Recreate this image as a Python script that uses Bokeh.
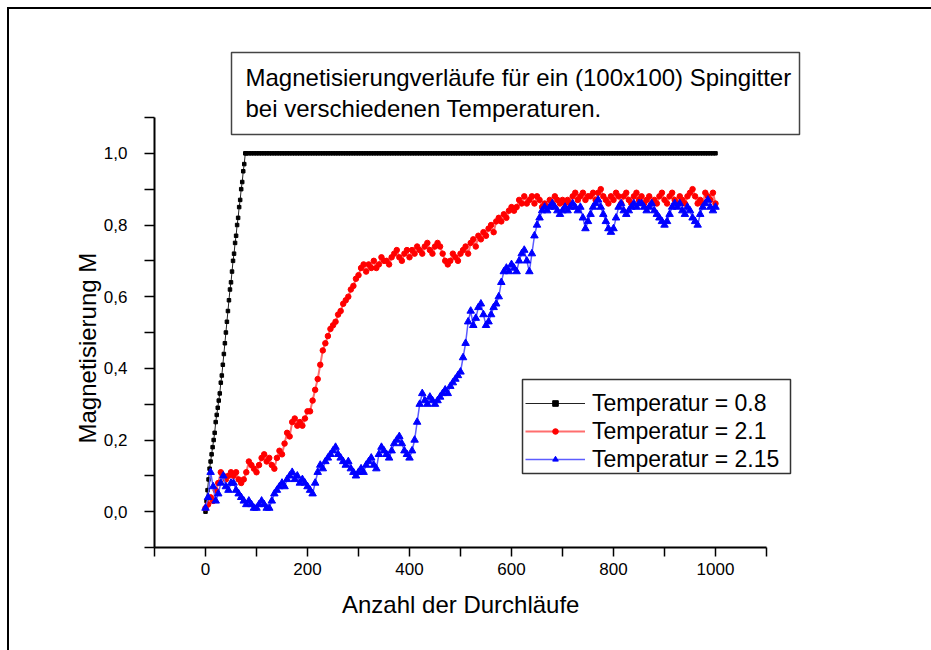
from bokeh.plotting import figure
from bokeh.models import (FixedTicker, CustomJSTickFormatter, BoxAnnotation, Label,
                          Legend, LegendItem, Range1d, Title)
from bokeh.embed import file_html
from bokeh.resources import INLINE

# Monte-Carlo sweeps (x) and magnetisation M for each temperature
steps = list(range(0, 1001, 5))

black_steps = list(range(0, 80, 2)) + list(range(80, 1001, 5))
black_m = [
    0.00, 0.03, 0.06, 0.09, 0.12, 0.14, 0.16, 0.18, 0.20, 0.22,
    0.25, 0.27, 0.29, 0.31, 0.33, 0.36, 0.38, 0.41, 0.44, 0.47,
    0.50, 0.53, 0.56, 0.59, 0.62, 0.64, 0.67, 0.70, 0.72, 0.75,
    0.77, 0.80, 0.82, 0.85, 0.87, 0.90, 0.92, 0.95, 0.97, 1.00,
    1.0, 1.0, 1.0, 1.0, 1.0, 1.0, 1.0, 1.0, 1.0, 1.0, 1.0, 1.0, 1.0, 1.0, 1.0, 1.0, 1.0, 1.0, 1.0, 1.0,
    1.0, 1.0, 1.0, 1.0, 1.0, 1.0, 1.0, 1.0, 1.0, 1.0, 1.0, 1.0, 1.0, 1.0, 1.0, 1.0, 1.0, 1.0, 1.0, 1.0,
    1.0, 1.0, 1.0, 1.0, 1.0, 1.0, 1.0, 1.0, 1.0, 1.0, 1.0, 1.0, 1.0, 1.0, 1.0, 1.0, 1.0, 1.0, 1.0, 1.0,
    1.0, 1.0, 1.0, 1.0, 1.0, 1.0, 1.0, 1.0, 1.0, 1.0, 1.0, 1.0, 1.0, 1.0, 1.0, 1.0, 1.0, 1.0, 1.0, 1.0,
    1.0, 1.0, 1.0, 1.0, 1.0, 1.0, 1.0, 1.0, 1.0, 1.0, 1.0, 1.0, 1.0, 1.0, 1.0, 1.0, 1.0, 1.0, 1.0, 1.0,
    1.0, 1.0, 1.0, 1.0, 1.0, 1.0, 1.0, 1.0, 1.0, 1.0, 1.0, 1.0, 1.0, 1.0, 1.0, 1.0, 1.0, 1.0, 1.0, 1.0,
    1.0, 1.0, 1.0, 1.0, 1.0, 1.0, 1.0, 1.0, 1.0, 1.0, 1.0, 1.0, 1.0, 1.0, 1.0, 1.0, 1.0, 1.0, 1.0, 1.0,
    1.0, 1.0, 1.0, 1.0, 1.0, 1.0, 1.0, 1.0, 1.0, 1.0, 1.0, 1.0, 1.0, 1.0, 1.0, 1.0, 1.0, 1.0, 1.0, 1.0,
    1.0, 1.0, 1.0, 1.0, 1.0, 1.0, 1.0, 1.0, 1.0, 1.0, 1.0, 1.0, 1.0, 1.0, 1.0, 1.0, 1.0, 1.0, 1.0, 1.0,
    1.0, 1.0, 1.0, 1.0, 1.0,
]

red_m = [
    0.01, 0.02, 0.04, 0.03, 0.06, 0.08, 0.11, 0.10, 0.09, 0.10, 0.11,
    0.10, 0.11, 0.09, 0.08, 0.09, 0.11, 0.14, 0.13, 0.12, 0.11,
    0.13, 0.15, 0.16, 0.14, 0.15, 0.13, 0.12, 0.15, 0.17, 0.16,
    0.19, 0.22, 0.21, 0.25, 0.26, 0.24, 0.25, 0.24, 0.26, 0.28,
    0.28, 0.31, 0.34, 0.37, 0.41, 0.45, 0.47, 0.49, 0.51, 0.52,
    0.53, 0.55, 0.56, 0.58, 0.59, 0.60, 0.62, 0.63, 0.65, 0.66,
    0.68, 0.69, 0.67, 0.69, 0.68, 0.70, 0.68, 0.69, 0.71, 0.70,
    0.70, 0.69, 0.71, 0.72, 0.73, 0.71, 0.70, 0.72, 0.73, 0.71,
    0.73, 0.72, 0.74, 0.73, 0.72, 0.74, 0.75, 0.73, 0.72, 0.74,
    0.75, 0.74, 0.72, 0.70, 0.69, 0.70, 0.72, 0.71, 0.70, 0.72,
    0.73, 0.74, 0.72, 0.75, 0.76, 0.74, 0.77, 0.76, 0.78, 0.77,
    0.79, 0.80, 0.78, 0.81, 0.82, 0.81, 0.83, 0.82, 0.84, 0.85,
    0.84, 0.85, 0.87, 0.86, 0.88, 0.86, 0.87, 0.88, 0.86, 0.88,
    0.87, 0.85, 0.86, 0.85, 0.87, 0.86, 0.88, 0.87, 0.86, 0.87,
    0.86, 0.87, 0.86, 0.88, 0.89, 0.87, 0.88, 0.89, 0.87, 0.88,
    0.88, 0.89, 0.87, 0.89, 0.90, 0.88, 0.87, 0.86, 0.88, 0.87,
    0.89, 0.88, 0.86, 0.88, 0.89, 0.87, 0.86, 0.88, 0.89, 0.87,
    0.88, 0.86, 0.87, 0.88, 0.86, 0.87, 0.86, 0.88, 0.89, 0.87,
    0.86, 0.88, 0.89, 0.87, 0.86, 0.88, 0.87, 0.86, 0.88, 0.89,
    0.90, 0.88, 0.86, 0.87, 0.86, 0.89, 0.88, 0.87, 0.89, 0.86,
]

blue_m = [
    0.01, 0.04, 0.11, 0.07, 0.03, 0.05, 0.08, 0.10, 0.07, 0.06, 0.08,
    0.08, 0.06, 0.05, 0.04, 0.03, 0.02, 0.03, 0.02, 0.01, 0.01,
    0.02, 0.03, 0.02, 0.01, 0.01, 0.03, 0.05, 0.06, 0.07, 0.08,
    0.07, 0.09, 0.10, 0.11, 0.09, 0.10, 0.08, 0.09, 0.08, 0.07,
    0.06, 0.05, 0.08, 0.11, 0.13, 0.12, 0.14, 0.15, 0.16, 0.17,
    0.18, 0.16, 0.15, 0.14, 0.13, 0.14, 0.12, 0.11, 0.10, 0.11,
    0.12, 0.11, 0.13, 0.14, 0.15, 0.13, 0.12, 0.16, 0.18, 0.17,
    0.16, 0.15, 0.17, 0.19, 0.20, 0.21, 0.19, 0.17, 0.16, 0.15,
    0.17, 0.20, 0.25, 0.30, 0.33, 0.31, 0.30, 0.32, 0.31, 0.30,
    0.31, 0.32, 0.33, 0.34, 0.33, 0.35, 0.36, 0.37, 0.38, 0.39,
    0.43, 0.47, 0.53, 0.56, 0.52, 0.54, 0.57, 0.58, 0.55, 0.52,
    0.53, 0.55, 0.57, 0.58, 0.60, 0.64, 0.67, 0.68, 0.67, 0.69,
    0.68, 0.67, 0.70, 0.72, 0.73, 0.70, 0.67, 0.72, 0.77, 0.80,
    0.82, 0.84, 0.85, 0.84, 0.85, 0.86, 0.85, 0.84, 0.83, 0.84,
    0.85, 0.84, 0.85, 0.86, 0.85, 0.84, 0.85, 0.82, 0.79, 0.81,
    0.83, 0.85, 0.86, 0.87, 0.85, 0.83, 0.81, 0.79, 0.78, 0.79,
    0.82, 0.85, 0.86, 0.84, 0.83, 0.84, 0.85, 0.86, 0.85, 0.86,
    0.86, 0.85, 0.84, 0.85, 0.86, 0.84, 0.83, 0.82, 0.81, 0.80,
    0.81, 0.83, 0.85, 0.86, 0.85, 0.86, 0.84, 0.83, 0.85, 0.84,
    0.82, 0.81, 0.80, 0.83, 0.85, 0.86, 0.87, 0.85, 0.84, 0.85,
]

series_labels = ["Temperatur = 0.8", "Temperatur = 2.1", "Temperatur = 2.15"]
title_lines = ["Magnetisierungverläufe für ein (100x100) Spingitter",
               "bei verschiedenen Temperaturen."]
x_label = "Anzahl der Durchläufe"
y_label = "Magnetisierung M"

x_major = [0, 200, 400, 600, 800, 1000]
x_minor = [-100, 100, 300, 500, 700, 900, 1100]
y_major = [0.0, 0.2, 0.4, 0.6, 0.8, 1.0]
y_minor = [-0.1, 0.1, 0.3, 0.5, 0.7, 0.9, 1.1]
x_lo, x_hi = -100, 1100
y_lo, y_hi = -0.1, 1.1

FONT = "Liberation Sans"

# Page geometry (pixels). The plot frame spans to the top and right edges so the
# text box and legend, which overhang the axes, are not clipped; the axes keep
# their own extent through their bounds.
W, H = 931, 650
AX_LEFT, AX_RIGHT, AX_TOP, AX_BOTTOM = 154, 766, 117, 547
px_per_x = (AX_RIGHT - AX_LEFT) / (x_hi - x_lo)
px_per_y = (AX_BOTTOM - AX_TOP) / (y_hi - y_lo)
x_end = x_lo + (W - AX_LEFT) / px_per_x
y_end = y_lo + AX_BOTTOM / px_per_y

p = figure(width=W, height=H, output_backend="svg", toolbar_location=None,
           x_range=Range1d(x_lo, x_end), y_range=Range1d(y_lo, y_end),
           min_border_left=AX_LEFT, min_border_right=0,
           min_border_top=0, min_border_bottom=H - AX_BOTTOM, title=None)
p.grid.visible = False
p.outline_line_color = None
p.background_fill_alpha = 0
p.border_fill_alpha = 0
# white page with a frame line along the top and left edge
p.styles = {
    "background-color": "white",
    "background-image": "linear-gradient(black, black), linear-gradient(black, black)",
    "background-size": "100% 2px, 2px 100%",
    "background-position": "7px 7px, 7px 7px",
    "background-repeat": "no-repeat",
}

xa = p.xaxis[0]
ya = p.yaxis[0]
xa.bounds = (x_lo, x_hi)
ya.bounds = (y_lo, y_hi)
xa.ticker = FixedTicker(ticks=x_major, minor_ticks=x_minor)
ya.ticker = FixedTicker(ticks=y_major, minor_ticks=y_minor)
ya.formatter = CustomJSTickFormatter(code="return tick.toFixed(1).replace('.', ',');")

for ax in (xa, ya):
    ax.axis_line_color = "black"
    ax.axis_line_width = 2
    ax.major_tick_line_color = "black"
    ax.minor_tick_line_color = "black"
    ax.major_tick_line_width = 1.5
    ax.minor_tick_line_width = 1.5
    ax.major_tick_in = 0
    ax.minor_tick_in = 0
    ax.major_label_text_font = FONT
    ax.major_label_text_font_size = "17px"
    ax.major_label_text_color = "black"

xa.major_tick_out = 9
xa.minor_tick_out = 9
ya.major_tick_out = 10
ya.minor_tick_out = 10
xa.major_label_standoff = 6
ya.major_label_standoff = 17

# axis titles, placed along the axes' own extent rather than the wider frame
X_LABEL_W, Y_LABEL_W = 237, 190          # rendered text lengths at 24px
x_label_cx, y_label_cy = (AX_LEFT + AX_RIGHT) / 2, 348
p.add_layout(Title(text=x_label, align="left",
                   offset=x_label_cx - X_LABEL_W / 2 - AX_LEFT,
                   text_font=FONT, text_font_size="24px", text_font_style="normal",
                   text_color="black", standoff=22), "below")
p.add_layout(Title(text=y_label, align="left",
                   offset=AX_BOTTOM - (y_label_cy + Y_LABEL_W / 2),
                   text_font=FONT, text_font_size="24px", text_font_style="normal",
                   text_color="black", standoff=0), "left")

# curves: connecting line plus markers
r_black_line = p.line(black_steps, black_m, line_color="#222222", line_width=1)
r_black_pts = p.scatter(black_steps, black_m, marker="square", size=3.5,
                        fill_color="black", line_color="black")
r_red_line = p.line(steps, red_m, line_color="#ff6e6e", line_width=2)
r_red_pts = p.scatter(steps, red_m, marker="circle", size=5.5,
                      fill_color="red", line_color="red")
r_blue_line = p.line(steps, blue_m, line_color="#5c5cff", line_width=1.5)
r_blue_pts = p.scatter(steps, blue_m, marker="triangle", size=7.5,
                       fill_color="blue", line_color="blue")

legend = Legend(items=[
    LegendItem(label=series_labels[0], renderers=[r_black_line, r_black_pts]),
    LegendItem(label=series_labels[1], renderers=[r_red_line, r_red_pts]),
    LegendItem(label=series_labels[2], renderers=[r_blue_line, r_blue_pts]),
], location=(371, 74), orientation="vertical", border_line_alpha=0,
    background_fill_alpha=0, padding=0, spacing=0, margin=0,
    glyph_width=60, glyph_height=14, label_height=28, label_standoff=7,
    label_text_font=FONT, label_text_font_size="23px", label_text_color="black")
p.add_layout(legend, "center")

# legend frame
p.add_layout(BoxAnnotation(left=522, right=790, top=379, bottom=473,
                           left_units="canvas", right_units="canvas",
                           top_units="canvas", bottom_units="canvas",
                           fill_alpha=0, line_color="#333333", line_width=1.5,
                           line_alpha=1))

# title box
p.add_layout(BoxAnnotation(left=231, right=799, top=52, bottom=134,
                           left_units="canvas", right_units="canvas",
                           top_units="canvas", bottom_units="canvas",
                           fill_color="white", fill_alpha=1,
                           line_color="#444444", line_width=1.5, line_alpha=1))
for txt, base in zip(title_lines, [77, 108]):
    p.add_layout(Label(x=245, y=base, x_units="canvas", y_units="canvas", text=txt,
                       text_font=FONT, text_font_size="24px", text_color="black",
                       text_baseline="alphabetic", text_align="left"))

open("out.html", "w").write(file_html(p, INLINE))
